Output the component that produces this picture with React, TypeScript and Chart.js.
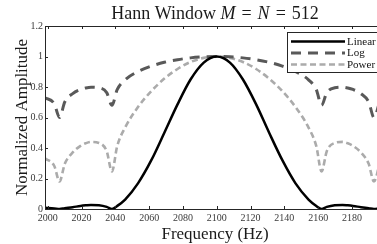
import React, { useEffect, useRef } from "react";
import { Chart, registerables } from "chart.js";

Chart.register(...registerables);

// ---- data ----
const frequencyHz = [
  1998.3, 2003.9, 2007.0, 2010.1, 2014.8, 2019.4, 2022.5, 2025.6, 2030.3, 2034.9,
  2038.0, 2041.1, 2045.8, 2053.5, 2061.3, 2069.0, 2076.8, 2084.5, 2092.3, 2100.0,
  2107.8, 2115.5, 2123.3, 2131.0, 2138.8, 2146.5, 2154.3, 2158.9, 2162.0, 2165.1,
  2169.8, 2174.4, 2177.5, 2180.6, 2185.3, 2189.9, 2193.0, 2196.1,
];
const linearAmp = [
  0.008, 0.004, 0.0, 0.005, 0.012, 0.02, 0.024, 0.027, 0.025, 0.014,
  0.0, 0.02, 0.062, 0.17, 0.32, 0.5, 0.686, 0.849, 0.96, 1.0,
  0.96, 0.849, 0.686, 0.5, 0.32, 0.17, 0.062, 0.02, 0.0, 0.014,
  0.025, 0.027, 0.024, 0.02, 0.012, 0.005, 0.0, 0.004,
];
const logAmp = [
  0.73, 0.69, 0.6, 0.702, 0.757, 0.784, 0.794, 0.799, 0.795, 0.763,
  0.68, 0.783, 0.847, 0.902, 0.937, 0.962, 0.979, 0.991, 0.998, 1.0,
  0.998, 0.991, 0.979, 0.962, 0.937, 0.902, 0.847, 0.783, 0.68, 0.763,
  0.795, 0.799, 0.794, 0.784, 0.757, 0.702, 0.6, 0.69,
];
const powerAmp = [
  0.333, 0.282, 0.18, 0.296, 0.371, 0.414, 0.431, 0.44, 0.433, 0.379,
  0.246, 0.412, 0.534, 0.67, 0.773, 0.855, 0.918, 0.964, 0.991, 1.0,
  0.991, 0.964, 0.918, 0.855, 0.773, 0.67, 0.534, 0.412, 0.246, 0.379,
  0.433, 0.44, 0.431, 0.414, 0.371, 0.296, 0.18, 0.282,
];
const seriesLabels = ["Linear", "Log", "Power"];
const titleParts: [string, boolean][] = [
  ["Hann Window ", false],
  ["M", true],
  ["\u2004=\u2004", false],
  ["N", true],
  ["\u2004=\u2004512", false],
];
const xAxisLabel = "Frequency (Hz)";
const yAxisLabel = "Normalized Amplitude";
const xRange = [1998.4, 2194.8];
const yRange = [0, 1.2];
const xStep = 20;
const yStep = 0.2;

const SERIF = "'Liberation Serif', 'DejaVu Serif', serif";
const styles = [
  { color: "#000000", width: 2.5, dash: [] as number[] },
  { color: "#595959", width: 3, dash: [10, 7] },
  { color: "#ababab", width: 2.6, dash: [6, 3.5] },
];

const decorPlugin = {
  id: "decor",
  afterDatasetsDraw(chart: any) {
    const { ctx, chartArea: a, scales } = chart;
    const x = scales.x;
    const y = scales.y;
    ctx.save();
    // frame
    ctx.strokeStyle = "#262626";
    ctx.lineWidth = 1;
    ctx.setLineDash([]);
    ctx.beginPath();
    ctx.moveTo(a.left, a.top + 0.5);
    ctx.lineTo(a.right, a.top + 0.5);
    ctx.moveTo(a.left + 0.5, a.top);
    ctx.lineTo(a.left + 0.5, a.bottom + 1);
    ctx.moveTo(a.left, a.bottom + 0.5);
    ctx.lineTo(a.right, a.bottom + 0.5);
    // inward ticks
    x.ticks.forEach((t: any) => {
      const px = Math.round(x.getPixelForValue(t.value)) + 0.5;
      ctx.moveTo(px, a.bottom);
      ctx.lineTo(px, a.bottom - 3);
      ctx.moveTo(px, a.top);
      ctx.lineTo(px, a.top + 3);
    });
    y.ticks.forEach((t: any) => {
      const py = Math.round(y.getPixelForValue(t.value)) + 0.5;
      ctx.moveTo(a.left, py);
      ctx.lineTo(a.left + 3, py);
    });
    ctx.stroke();

    // legend box
    const bx = 287.5, by = 32.5, bw = 100, bh = 40;
    ctx.fillStyle = "#ffffff";
    ctx.fillRect(bx, by, bw, bh);
    ctx.strokeStyle = "#262626";
    ctx.lineWidth = 1;
    ctx.strokeRect(bx, by, bw, bh);
    const rows = [41.5, 53, 64.5];
    ctx.font = `11px ${SERIF}`;
    ctx.textBaseline = "middle";
    ctx.textAlign = "left";
    seriesLabels.forEach((lab, i) => {
      const s = styles[i];
      ctx.beginPath();
      ctx.strokeStyle = s.color;
      ctx.lineWidth = s.width;
      ctx.setLineDash(s.dash);
      ctx.moveTo(291, rows[i]);
      ctx.lineTo(345, rows[i]);
      ctx.stroke();
      ctx.setLineDash([]);
      ctx.fillStyle = "#111";
      ctx.fillText(lab, 347, rows[i] + 0.5);
    });
    ctx.restore();
  },
  afterDraw(chart: any) {
    const { ctx, chartArea: a } = chart;
    ctx.save();
    ctx.fillStyle = "#1a1a1a";
    ctx.textBaseline = "alphabetic";
    // title
    const tSize = 18;
    let total = 0;
    const widths = titleParts.map(([t, it]) => {
      ctx.font = `${it ? "italic " : ""}${tSize}px ${SERIF}`;
      const w = ctx.measureText(t).width;
      total += w;
      return w;
    });
    let tx = 215 - total / 2;
    titleParts.forEach(([t, it], i) => {
      ctx.font = `${it ? "italic " : ""}${tSize}px ${SERIF}`;
      ctx.textAlign = "left";
      ctx.fillText(t, tx, 18.5);
      tx += widths[i];
    });
    // x label
    ctx.font = `17px ${SERIF}`;
    ctx.textAlign = "center";
    ctx.fillText(xAxisLabel, 215, 239);
    // y label
    ctx.translate(27, (a.top + a.bottom) / 2);
    ctx.rotate(-Math.PI / 2);
    ctx.fillText(yAxisLabel, 0, 0);
    ctx.restore();
  },
};

export default function App() {
  const canvasRef = useRef<HTMLCanvasElement>(null);

  useEffect(() => {
    document.body.style.margin = "0";
    const canvas = canvasRef.current;
    if (!canvas) return;
    const mk = (vals: number[]) => frequencyHz.map((f, i) => ({ x: f, y: vals[i] }));
    const series = [linearAmp, logAmp, powerAmp];
    const chart = new Chart(canvas, {
      type: "line",
      data: {
        datasets: series.map((vals, i) => ({
          label: seriesLabels[i],
          data: mk(vals),
          borderColor: styles[i].color,
          borderWidth: styles[i].width,
          borderDash: styles[i].dash,
          pointRadius: 0,
          fill: false,
          cubicInterpolationMode: "monotone" as const,
          borderCapStyle: "butt" as const,
        })),
      },
      options: {
        responsive: false,
        maintainAspectRatio: false,
        animation: false,
        devicePixelRatio: 1,
        layout: { padding: { top: 26, left: 0, right: 0, bottom: 0 } },
        plugins: {
          legend: { display: false },
          title: { display: false },
          tooltip: { enabled: false },
        },
        scales: {
          x: {
            type: "linear",
            min: xRange[0],
            max: xRange[1],
            grid: { display: false, drawTicks: false },
            border: { display: false },
            ticks: {
              stepSize: xStep,
              includeBounds: false,
              autoSkip: false,
              maxRotation: 0,
              padding: 3,
              color: "#3a3a3a",
              font: { family: SERIF, size: 10 },
              callback: (v: any) => String(Math.round(Number(v))),
            },
            afterFit: (s: any) => {
              s.height = 35;
            },
          },
          y: {
            type: "linear",
            min: yRange[0],
            max: yRange[1],
            grid: { display: false, drawTicks: false },
            border: { display: false },
            ticks: {
              stepSize: yStep,
              padding: 2,
              color: "#3a3a3a",
              font: { family: SERIF, size: 10 },
              callback: (v: any) => String(Number(Number(v).toFixed(1))),
            },
            afterFit: (s: any) => {
              s.width = 45;
            },
          },
        },
      },
      plugins: [decorPlugin],
    });
    return () => chart.destroy();
  }, []);

  return (
    <div style={{ width: 377, height: 244 }}>
      <canvas ref={canvasRef} width={377} height={244} style={{ display: "block" }} />
    </div>
  );
}
